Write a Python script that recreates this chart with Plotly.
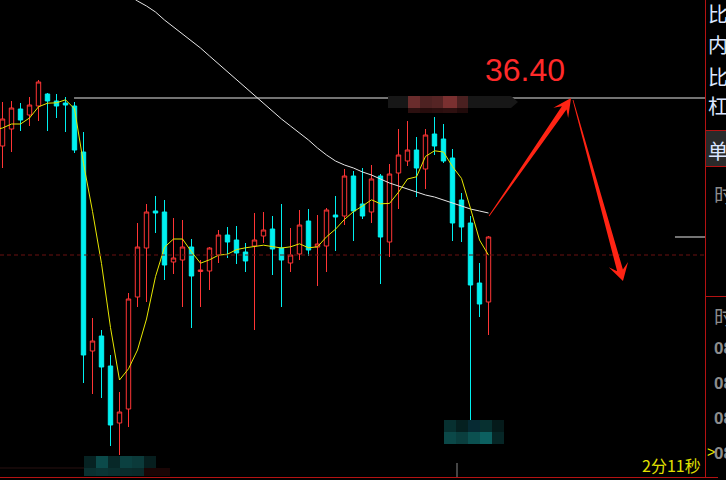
import math
import pandas as pd
import plotly.graph_objects as go

W, H = 726, 480

# ---------------- data ----------------
opens = [35.92, 36.09, 36.29, 36.23, 36.32, 36.44, 36.37, 36.35, 36.32, 35.86,
         33.87, 34.02, 33.72, 33.15, 33.29, 34.41, 34.90, 35.27, 35.26, 34.76,
         34.78, 34.91, 34.665, 34.67, 34.83, 35.03, 34.98, 34.86, 34.92, 35.02,
         35.09, 34.90, 34.75, 34.84, 35.17, 34.91, 34.92, 35.23, 35.22, 35.62,
         35.34, 35.26, 35.62, 34.96, 35.65, 35.77, 35.88, 35.69, 36.04, 35.99,
         35.80, 35.38, 35.15, 34.55, 34.36]
highs = [36.36, 36.37, 36.35, 36.41, 36.58, 36.45, 36.44, 36.41, 36.36, 36.06,
         34.20, 34.08, 33.83, 33.46, 34.45, 35.15, 35.34, 35.42, 35.38, 35.20,
         35.18, 34.99, 34.78, 34.91, 35.08, 35.11, 35.12, 34.95, 35.25, 35.26,
         35.22, 35.34, 35.10, 35.28, 35.29, 35.23, 35.30, 35.42, 35.69, 35.67,
         35.70, 35.73, 35.64, 35.74, 36.09, 36.17, 36.01, 36.09, 36.21, 36.14,
         35.89, 35.45, 35.22, 34.75, 35.02]
lows = [35.70, 35.86, 36.07, 36.12, 36.17, 36.07, 36.20, 36.06, 35.85, 33.55,
        33.44, 33.40, 32.92, 32.83, 33.11, 34.31, 34.36, 35.05, 34.58, 34.64,
        34.31, 34.10, 34.31, 34.48, 34.75, 34.80, 34.74, 34.66, 34.08, 34.95,
        34.63, 34.31, 34.66, 34.78, 34.82, 34.52, 34.66, 34.87, 35.13, 34.97,
        35.19, 35.15, 34.54, 34.81, 35.29, 35.72, 35.41, 35.49, 35.83, 35.75,
        34.97, 34.96, 33.16, 34.21, 34.03]
closes = [36.19, 36.30, 36.18, 36.33, 36.56, 36.37, 36.32, 36.33, 35.88, 33.83,
          33.97, 33.71, 33.13, 33.26, 34.39, 34.91, 35.26, 35.25, 34.73, 34.80,
          34.91, 34.62, 34.68, 34.90, 35.03, 34.96, 34.85, 34.77, 34.98, 35.08,
          34.89, 34.78, 34.83, 35.13, 34.88, 34.94, 35.28, 35.21, 35.62, 35.27,
          35.22, 35.59, 35.01, 35.64, 35.83, 35.88, 35.70, 36.03, 35.92, 35.77,
          35.15, 35.11, 34.53, 34.34, 35.01]
bars = list(range(len(closes)))

# yellow MA5 for the first bars (earlier closes are off-screen)
ma5_lead_bars = [-1, 0, 1, 2, 3]
ma5_lead = [36.08, 36.10, 36.14, 36.14, 36.20]

# white long moving average
long_ma_bars = list(range(14, 55))
long_ma = [37.43, 37.37, 37.32, 37.26, 37.18, 37.11, 37.04, 36.97, 36.90, 36.82,
           36.74, 36.66, 36.58, 36.50, 36.42, 36.34, 36.26, 36.19, 36.12, 36.05,
           35.98, 35.90, 35.83, 35.77, 35.73, 35.70, 35.66, 35.63, 35.59, 35.55,
           35.52, 35.49, 35.46, 35.43, 35.41, 35.38, 35.35, 35.32, 35.29, 35.27,
           35.25]

level_price = 36.40
level_label = "36.40"
level_start_bar = 7.95
ref_dash_price = 34.83
side_mark_price = 35.01

# arrows: (start bar, start price) -> (tip bar, tip price)
arrow_up = ((54.06, 35.22), (63.17, 36.40))
arrow_down = ((63.39, 36.38), (68.94, 34.57))

timer_text = "2分11秒"
panel_labels = ["比", "内", "比", "杠", "单"]
panel_sub = ["时", "时", "08", "08", "08", "08"]

# ---------------- styling ----------------
RED = "#ff3535"
CYAN = "#00f0f0"
YELLOW = "#e8e800"
WHITE = "#e6e6e6"
PANEL_RED = "#b41212"
ARROW_RED = "#ff2414"

X_MIN, X_MAX = -0.2778, 78.056
Y_MIN, Y_MAX = 32.58, 37.38
PLOT_W = 705

def to_px(b, p):
    return ((b - X_MIN) / (X_MAX - X_MIN) * PLOT_W, (Y_MAX - p) / (Y_MAX - Y_MIN) * H)

def to_data(x, y):
    return (X_MIN + x / PLOT_W * (X_MAX - X_MIN), Y_MAX - y / H * (Y_MAX - Y_MIN))

def arrow_path(start, tip, w0, w1, hl, notch, hw):
    sx, sy = to_px(*start)
    tx, ty = to_px(*tip)
    L = math.hypot(tx - sx, ty - sy)
    ux, uy = (tx - sx) / L, (ty - sy) / L
    nx, ny = -uy, ux
    pts = [
        (sx + w0 * nx, sy + w0 * ny),
        (tx - notch * ux + w1 * nx, ty - notch * uy + w1 * ny),
        (tx - hl * ux + hw * nx, ty - hl * uy + hw * ny),
        (tx, ty),
        (tx - hl * ux - hw * nx, ty - hl * uy - hw * ny),
        (tx - notch * ux - w1 * nx, ty - notch * uy - w1 * ny),
        (sx - w0 * nx, sy - w0 * ny),
    ]
    d = [to_data(x, y) for x, y in pts]
    return "M " + " L ".join(f"{a:.4f},{b:.4f}" for a, b in d) + " Z"

# ---------------- figure ----------------
ma5 = pd.Series(closes).rolling(5).mean().tolist()
ma5_x = ma5_lead_bars + bars[4:]
ma5_y = ma5_lead + ma5[4:]

fig = go.Figure()
fig.add_trace(go.Candlestick(
    x=bars, open=opens, high=highs, low=lows, close=closes,
    increasing=dict(line=dict(color=RED, width=1), fillcolor="rgba(0,0,0,0)"),
    decreasing=dict(line=dict(color=CYAN, width=1), fillcolor=CYAN),
    whiskerwidth=0, showlegend=False, hoverinfo="skip"))
fig.add_trace(go.Scatter(x=long_ma_bars, y=long_ma, mode="lines",
                         line=dict(color=WHITE, width=1), showlegend=False, hoverinfo="skip"))
fig.add_trace(go.Scatter(x=ma5_x, y=ma5_y, mode="lines",
                         line=dict(color=YELLOW, width=1), showlegend=False, hoverinfo="skip"))

shapes = []
# horizontal level line and reference lines
shapes.append(dict(type="line", xref="x", yref="y", x0=level_start_bar, x1=X_MAX,
                   y0=level_price, y1=level_price, line=dict(color=WHITE, width=1)))
shapes.append(dict(type="line", xref="x", yref="y", x0=X_MIN, x1=X_MAX,
                   y0=ref_dash_price, y1=ref_dash_price,
                   line=dict(color="#6a1010", width=1, dash="4px,3px")))
shapes.append(dict(type="line", xref="x", yref="y", x0=74.72, x1=X_MAX,
                   y0=side_mark_price, y1=side_mark_price, line=dict(color=WHITE, width=1)))
# arrows
shapes.append(dict(type="path", xref="x", yref="y",
                   path=arrow_path(arrow_up[0], arrow_up[1], 0.4, 2.8, 18, 12, 9),
                   fillcolor=ARROW_RED, line=dict(width=0)))
shapes.append(dict(type="path", xref="x", yref="y",
                   path=arrow_path(arrow_down[0], arrow_down[1], 0.4, 3.0, 17, 11, 10),
                   fillcolor=ARROW_RED, line=dict(width=0)))

def prect(x0, y0, x1, y1, color, line=None):
    d = dict(type="rect", xref="paper", yref="paper",
             x0=x0 / W, x1=x1 / W, y0=1 - y1 / H, y1=1 - y0 / H,
             fillcolor=color, line=dict(width=0), layer="above")
    if line:
        d["line"] = line
    return d

def pline(x0, y0, x1, y1, color, width=1):
    return dict(type="line", xref="paper", yref="paper", x0=x0 / W, x1=x1 / W,
                y0=1 - y0 / H, y1=1 - y1 / H, line=dict(color=color, width=width))

# pixelated (blurred) patches
shapes.append(dict(type="path", xref="paper", yref="paper",
                   path=" ".join([f"M {388/W},{1-96/H}", f"L {511/W},{1-96/H}", f"L {518/W},{1-102/H}",
                                  f"L {511/W},{1-108/H}", f"L {388/W},{1-108/H}", "Z"]),
                   fillcolor="#171717", line=dict(width=0)))
for x0, x1, c, c2 in [(408, 420, "#6a2c2c", "#2c1010"), (420, 432, "#4e2222", "#260c0c"),
                      (432, 443, "#552424", "#2a0e0e"), (443, 457, "#7a3030", "#2e1010"),
                      (457, 468, "#4a2020", "#200a0a")]:
    shapes.append(prect(x0, 96, x1, 108, c))
    shapes.append(prect(x0, 108, x1, 113, c2))
for x0, x1, c1, c2 in [(84, 96, "#062222", "#0a3030"), (96, 108, "#0b4a4a", "#0a3434"),
                       (108, 120, "#072828", "#0a3030"), (120, 132, "#0b4040", "#0a2c2c"),
                       (132, 144, "#0b3a3a", "#0a2a2a"), (144, 156, "#061e1e", "#1a0505")]:
    shapes.append(prect(x0, 456, x1, 468, c1))
    shapes.append(prect(x0, 468, x1, 476, c2))
shapes.append(prect(156, 468, 170, 476, "#1a0505"))
shapes.append(prect(0, 467, 84, 469, "#140808"))
for x0, x1, c1, c2 in [(444, 456, "#073030", "#0b4848"), (456, 468, "#052020", "#0a3e3e"),
                       (468, 480, "#062a33", "#0b5050"), (480, 492, "#073030", "#0c6060"),
                       (492, 504, "#051a1a", "#062626")]:
    shapes.append(prect(x0, 420, x1, 432, c1))
    shapes.append(prect(x0, 432, x1, 444, c2))
shapes.append(pline(457, 463, 457, 477, "#8a8a8a"))

# right panel frame
shapes.append(prect(706, 131, 726, 166, "#2a2a2a"))
shapes.append(pline(705.5, 0, 705.5, 477, PANEL_RED))
shapes.append(pline(705, 130.5, 726, 130.5, PANEL_RED))
shapes.append(pline(705, 166.5, 726, 166.5, PANEL_RED))
shapes.append(pline(705, 296.5, 726, 296.5, PANEL_RED))
shapes.append(pline(0, 477.5, 718, 477.5, PANEL_RED))

annotations = []
annotations.append(dict(xref="x", yref="y", x=to_data(525, 0)[0], y=to_data(0, 70)[1],
                        text=level_label, showarrow=False, xanchor="center", yanchor="middle",
                        font=dict(family="Liberation Sans, Arial", size=32, color="#ff2a2a")))

CJK = "Noto Sans CJK SC"
for txt, yc in zip(panel_labels, [13, 44, 76, 105, 150]):
    annotations.append(dict(xref="paper", yref="paper", x=706 / W, y=1 - yc / H, text=txt,
                            showarrow=False, xanchor="left", yanchor="middle",
                            font=dict(family=CJK, size=20, color="#dbe6ff")))
for txt, yc in zip(panel_sub, [194, 316, 348, 383, 418, 453]):
    is_cjk = txt == "时"
    annotations.append(dict(xref="paper", yref="paper", x=712 / W, y=1 - yc / H,
                            text=txt if is_cjk else f"<b>{txt}</b>",
                            showarrow=False, xanchor="left", yanchor="middle",
                            font=dict(family=CJK if is_cjk else "Liberation Sans",
                                      size=20 if is_cjk else 17, color="#8c8c8c")))
annotations.append(dict(xref="paper", yref="paper", x=705 / W, y=1 - 452 / H, text=">",
                        showarrow=False, xanchor="left", yanchor="middle",
                        font=dict(family="Liberation Sans", size=14, color=YELLOW)))
annotations.append(dict(xref="paper", yref="paper", x=703 / W, y=1 - 465 / H, text=timer_text,
                        showarrow=False, xanchor="right", yanchor="middle",
                        font=dict(family=CJK, size=16, color="#e0e000")))

fig.update_layout(
    width=W, height=H, margin=dict(l=0, r=0, t=0, b=0),
    paper_bgcolor="#000000", plot_bgcolor="#000000",
    xaxis=dict(range=[X_MIN, X_MAX], domain=[0, PLOT_W / W], visible=False,
               rangeslider=dict(visible=False), fixedrange=True),
    yaxis=dict(range=[Y_MIN, Y_MAX], domain=[0, 1], visible=False, fixedrange=True),
    shapes=shapes, annotations=annotations, showlegend=False,
)

fig.write_html("out.html", config={"displayModeBar": False})
with open("out.html", "r", encoding="utf-8") as f:
    html = f.read()
html = html.replace("<body>", '<body style="margin:0;background:#000">', 1)
with open("out.html", "w", encoding="utf-8") as f:
    f.write(html)
